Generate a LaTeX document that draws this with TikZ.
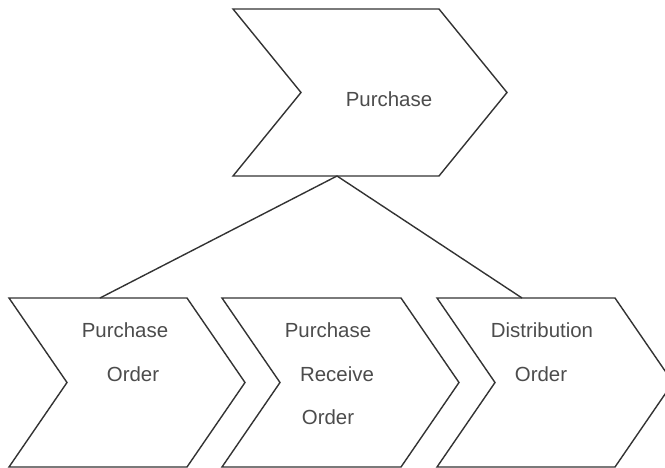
\documentclass[tikz,border=0pt]{standalone}
\usepackage{fontspec}
\setmainfont{Liberation Sans}
\begin{document}
\begin{tikzpicture}[x=1bp,y=-1bp,
  chev/.style={draw=black!80,line width=1.4bp,line join=miter,fill=white},
  lbl/.style={anchor=base,inner sep=0pt,text=black!70,font=\fontsize{20.5}{24}\selectfont},
  link/.style={draw=black!80,line width=1.4bp}]
\useasboundingbox (0,0) rectangle (665,468);

% top-level process chevron
\draw[chev] (233,9) -- (439,9) -- (507,92.5) -- (439,176) -- (233,176) -- (301,92.5) -- cycle;
\node[lbl] (purchase) at (389,107) {Purchase};

% sub-process chevrons
\draw[chev] (9,298) -- (187,298) -- (245,382.5) -- (187,467) -- (9,467) -- (67,382.5) -- cycle;
\draw[chev] (222,298) -- (401,298) -- (459,382.5) -- (401,467) -- (222,467) -- (280,382.5) -- cycle;
\draw[chev] (437,298) -- (615,298) -- (673,382.5) -- (615,467) -- (437,467) -- (495,382.5) -- cycle;

\node[lbl] (po1) at (125,337) {Purchase};
\node[lbl] (po2) at (133,381) {Order};

\node[lbl] (pro1) at (328,337) {Purchase};
\node[lbl] (pro2) at (337,381) {Receive};
\node[lbl] (pro3) at (328,424) {Order};

\node[lbl] (do1) at (542,337) {Distribution};
\node[lbl] (do2) at (541,381) {Order};

% hierarchy connectors
\coordinate (apex) at (337,176);
\coordinate (poTop) at (100,298);
\coordinate (doTop) at (522,298);
\draw[link] (apex) -- (poTop);
\draw[link] (apex) -- (doTop);
\end{tikzpicture}
\end{document}
